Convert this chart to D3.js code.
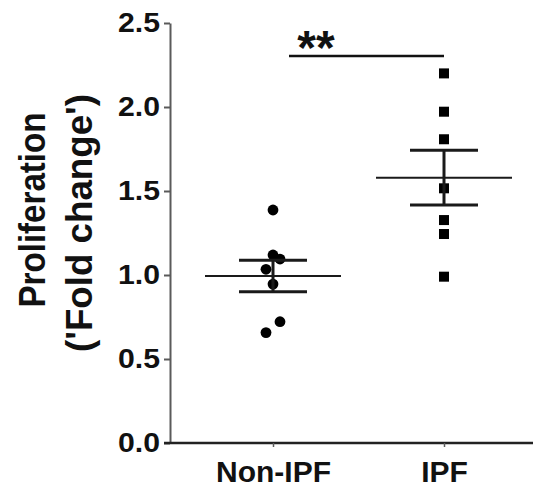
<!DOCTYPE html>
<html>
<head>
<meta charset="utf-8">
<script src="https://cdn.jsdelivr.net/npm/d3@7"></script>
<style>
  body { margin: 0; background: #fff; }
  text { font-family: "Liberation Sans", Arial, sans-serif; font-weight: bold; }
</style>
</head>
<body>
<div id="chart"></div>
<script>
var w = 533, h = 494;

// Data
var groups = ["Non-IPF", "IPF"];
var nonIpfValues = [1.387, 1.119, 1.095, 1.034, 0.946, 0.722, 0.657];
var ipfValues = [2.20, 1.972, 1.808, 1.516, 1.327, 1.244, 0.99];
var yTicks = [0, 0.5, 1.0, 1.5, 2.0, 2.5];
var significance = "**";

var values = { "Non-IPF": nonIpfValues, "IPF": ipfValues };

var svg = d3.select("#chart")
  .append("svg")
  .attr("width", w)
  .attr("height", h);

// Scales
var y = d3.scaleLinear()
  .domain([0, 2.5])
  .range([443, 23]);

var x = d3.scalePoint()
  .domain(groups)
  .range([273, 444]);

// Y axis
var yAxis = svg.append("g")
  .attr("transform", "translate(170,0)")
  .call(d3.axisLeft(y)
    .tickValues(yTicks)
    .tickFormat(d3.format(".1f"))
    .tickSize(6)
    .tickSizeOuter(0)
    .tickPadding(4));

yAxis.select(".domain").attr("stroke", "#5a5a5a").attr("stroke-width", 2);
yAxis.selectAll(".tick line").attr("stroke", "#5a5a5a").attr("stroke-width", 2);
yAxis.selectAll(".tick text")
  .attr("fill", "#111")
  .attr("textLength", 42)
  .attr("lengthAdjust", "spacingAndGlyphs")
  .style("font-size", "28px");

// X axis
var xAxis = svg.append("g")
  .attr("transform", "translate(0,443)")
  .call(d3.axisBottom(x)
    .tickSize(4)
    .tickSizeOuter(0)
    .tickPadding(14));

xAxis.select(".domain")
  .attr("d", "M164,0H533")
  .attr("stroke", "#222")
  .attr("stroke-width", 2.6);
xAxis.selectAll(".tick line").attr("stroke", "#5a5a5a").attr("stroke-width", 1.5);
xAxis.selectAll(".tick text")
  .attr("fill", "#111")
  .style("font-size", "30px");

// Y axis title
svg.append("text")
  .attr("transform", "translate(45,210) rotate(-90)")
  .attr("text-anchor", "middle")
  .attr("fill", "#111")
  .attr("textLength", 195)
  .attr("lengthAdjust", "spacingAndGlyphs")
  .style("font-size", "36px")
  .text("Proliferation");

svg.append("text")
  .attr("transform", "translate(92,223) rotate(-90)")
  .attr("text-anchor", "middle")
  .attr("fill", "#111")
  .attr("textLength", 258)
  .attr("lengthAdjust", "spacingAndGlyphs")
  .style("font-size", "36px")
  .text("('Fold change')");

// Spread points that overlap vertically
function offsets(vals) {
  var order = vals.map(function(v, i) { return i; })
    .sort(function(a, b) { return vals[b] - vals[a]; });
  var result = vals.map(function() { return 0; });
  var clusters = [], current = [order[0]];
  for (var k = 1; k < order.length; k++) {
    var prev = order[k - 1], cur = order[k];
    if (y(vals[cur]) - y(vals[prev]) < 12) {
      current.push(cur);
    } else {
      clusters.push(current);
      current = [cur];
    }
  }
  clusters.push(current);
  clusters.forEach(function(c) {
    var pattern = c.length === 1 ? [0] : c.length === 2 ? [7, -7] : [0, 7, -7];
    c.forEach(function(idx, j) { result[idx] = pattern[j % pattern.length]; });
  });
  return result;
}

// Mean and SEM
function stats(vals) {
  var m = d3.mean(vals);
  var sem = d3.deviation(vals) / Math.sqrt(vals.length);
  return { mean: m, sem: sem };
}

groups.forEach(function(g) {
  var vals = values[g];
  var cx = x(g);
  var off = offsets(vals);
  var s = stats(vals);

  var pts = svg.append("g");
  if (g === "Non-IPF") {
    pts.selectAll("circle")
      .data(vals)
      .enter()
      .append("circle")
      .attr("cx", function(d, i) { return cx + off[i]; })
      .attr("cy", function(d) { return y(d); })
      .attr("r", 5.4)
      .attr("fill", "#000");
  } else {
    pts.selectAll("rect")
      .data(vals)
      .enter()
      .append("rect")
      .attr("x", function(d, i) { return cx + off[i] - 5; })
      .attr("y", function(d) { return y(d) - 5; })
      .attr("width", 10)
      .attr("height", 10)
      .attr("fill", "#000");
  }

  var bars = svg.append("g").attr("stroke", "#1a1a1a");
  // mean line
  bars.append("line")
    .attr("x1", cx - 68).attr("x2", cx + 68)
    .attr("y1", y(s.mean)).attr("y2", y(s.mean))
    .attr("stroke-width", 2);
  // SEM
  bars.append("line")
    .attr("x1", cx).attr("x2", cx)
    .attr("y1", y(s.mean + s.sem)).attr("y2", y(s.mean - s.sem))
    .attr("stroke-width", 3);
  [s.mean + s.sem, s.mean - s.sem].forEach(function(v) {
    bars.append("line")
      .attr("x1", cx - 34).attr("x2", cx + 34)
      .attr("y1", y(v)).attr("y2", y(v))
      .attr("stroke-width", 3);
  });
});

// Significance bar
svg.append("line")
  .attr("x1", x("Non-IPF") + 16)
  .attr("x2", x("IPF"))
  .attr("y1", 56).attr("y2", 56)
  .attr("stroke", "#111")
  .attr("stroke-width", 2.5);

svg.append("text")
  .attr("x", 316)
  .attr("y", 64)
  .attr("text-anchor", "middle")
  .attr("fill", "#111")
  .style("font-size", "48px")
  .text(significance);
</script>
</body>
</html>
